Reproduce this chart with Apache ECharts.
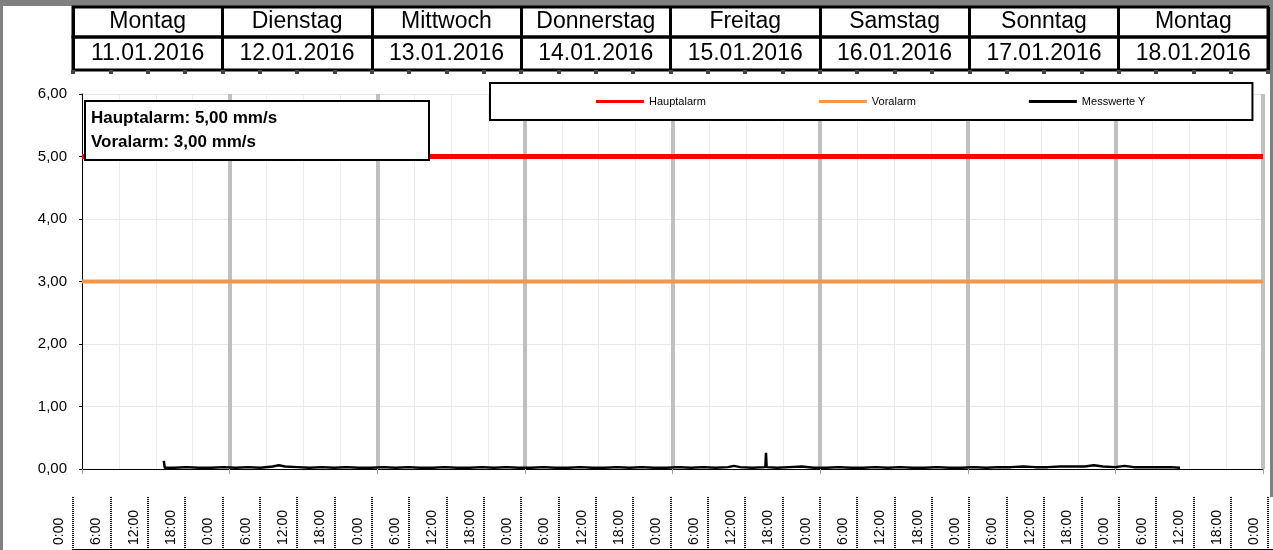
<!DOCTYPE html>
<html><head><meta charset="utf-8">
<script src="https://cdn.jsdelivr.net/npm/echarts@6/dist/echarts.min.js"></script>
<style>
html,body{margin:0;padding:0;background:#fff;}
#chart{position:absolute;left:0;top:0;width:1273px;height:550px;}
.gb{position:absolute;background:#808080;}
</style></head><body>
<div class="gb" style="left:0;top:0;width:1273px;height:6px"></div>
<div class="gb" style="left:0;top:0;width:3px;height:550px"></div>
<div class="gb" style="left:1270px;top:0;width:3px;height:497px"></div>
<div id="chart"></div>
<script>
// ---- data ----
const dayNames = ['Montag','Dienstag','Mittwoch','Donnerstag','Freitag','Samstag','Sonntag','Montag'];
const dayDates = ['11.01.2016','12.01.2016','13.01.2016','14.01.2016','15.01.2016','16.01.2016','17.01.2016','18.01.2016'];
const timeLabels = ['0:00','6:00','12:00','18:00','0:00','6:00','12:00','18:00','0:00','6:00','12:00','18:00',
  '0:00','6:00','12:00','18:00','0:00','6:00','12:00','18:00','0:00','6:00','12:00','18:00',
  '0:00','6:00','12:00','18:00','0:00','6:00','12:00','18:00','0:00'];
const yTicks = [0,1,2,3,4,5,6];
const seriesNames = ['Hauptalarm','Voralarm','Messwerte Y'];
// hours since 11.01.2016 00:00
const alarmHours = [0, 192];
const hauptalarm = [5.00, 5.00];
const voralarm = [3.00, 3.00];
const mwHours = [13.3, 13.45, 15, 17, 19, 21, 23, 25, 27, 29, 31, 32, 33, 35, 37, 39, 41, 43, 45, 47,
  49, 51, 53, 55, 57, 59, 61, 63, 65, 67, 69, 71, 73, 75, 77, 79, 81, 83, 85, 87,
  89, 91, 93, 95, 97, 99, 101, 103, 105, 106, 107, 109, 111.1, 111.2, 111.3, 113, 115, 117, 119, 121,
  123, 125, 127, 129, 131, 133, 135, 137, 139, 141, 143, 145, 147, 149, 151, 153, 155, 157, 159, 161,
  163, 164.5, 166, 168, 169.5, 171, 173, 175, 177, 178.5];
const mwValues = [0.13, 0.02, 0.02, 0.03, 0.02, 0.02, 0.03, 0.02, 0.03, 0.02, 0.04, 0.06, 0.04, 0.03, 0.02, 0.03, 0.02, 0.03, 0.02, 0.02,
  0.03, 0.02, 0.03, 0.02, 0.02, 0.03, 0.02, 0.02, 0.03, 0.02, 0.03, 0.02, 0.02, 0.03, 0.02, 0.02, 0.03, 0.02, 0.02, 0.03,
  0.02, 0.03, 0.02, 0.02, 0.03, 0.02, 0.03, 0.02, 0.03, 0.05, 0.03, 0.02, 0.03, 0.26, 0.03, 0.02, 0.03, 0.04, 0.02, 0.02,
  0.03, 0.02, 0.02, 0.03, 0.02, 0.03, 0.02, 0.02, 0.03, 0.02, 0.02, 0.03, 0.02, 0.03, 0.03, 0.04, 0.03, 0.03, 0.04, 0.04,
  0.04, 0.06, 0.04, 0.03, 0.05, 0.03, 0.03, 0.03, 0.03, 0.02];

// ---- chart ----
const FF = 'Arial, "Liberation Sans", sans-serif';
const zip = (xs, ys) => xs.map((x, i) => [x, ys[i]]);
const chart = echarts.init(document.getElementById('chart'), null, {renderer: 'canvas'});
const hidY = i => ({gridIndex: i, type: 'value', show: false});
chart.setOption({
  animation: false,
  title: {
    text: 'Hauptalarm: 5,00 mm/s\nVoralarm: 3,00 mm/s',
    left: 85, top: 101, padding: [5, 152, 6, 6],
    borderColor: '#000', borderWidth: 2, backgroundColor: '#fff',
    textStyle: {fontFamily: FF, fontSize: 17, fontWeight: 'bold', color: '#000', lineHeight: 24}
  },
  legend: {
    data: seriesNames, left: 490, top: 83, padding: [12, 107, 12, 106],
    icon: 'rect', itemGap: 113, itemWidth: 48, itemHeight: 3,
    borderColor: '#000', borderWidth: 2, backgroundColor: '#fff',
    textStyle: {fontFamily: FF, fontSize: 11, color: '#000', lineHeight: 13}
  },
  grid: [
    {left: 82, top: 94, width: 1181, height: 375},
    {left: 73, top: 7, width: 1195, height: 30, show: true, borderColor: '#000', borderWidth: 3},
    {left: 73, top: 37, width: 1195, height: 33, show: true, borderColor: '#000', borderWidth: 3},
    {left: 73, top: 497, width: 1200, height: 53},
    {left: 59, top: 480, width: 1195, height: 65}
  ],
  xAxis: [
    {gridIndex: 0, type: 'value', min: 0, max: 192, interval: 24,
      axisLine: {show: true, lineStyle: {color: '#000', width: 1}},
      axisTick: {show: true, length: 5, lineStyle: {color: '#a0a0a0'}},
      axisLabel: {show: false},
      splitLine: {show: true, showMinLine: false, lineStyle: {color: '#c0c0c0', width: 4}},
      minorTick: {show: false, splitNumber: 4},
      minorSplitLine: {show: true, lineStyle: {color: '#ebebeb', width: 1}}
    },
    {gridIndex: 1, type: 'category', data: dayNames, boundaryGap: true, position: 'bottom',
      axisLine: {show: false}, axisTick: {show: false},
      axisLabel: {interval: 0, inside: true, margin: 15, verticalAlign: 'middle', fontFamily: FF, fontSize: 23, color: '#000'},
      splitLine: {show: true, interval: 0, lineStyle: {color: '#000', width: 3}}
    },
    {gridIndex: 2, type: 'category', data: dayDates, boundaryGap: true, position: 'top',
      axisLine: {show: false}, axisTick: {show: false},
      axisLabel: {interval: 0, inside: true, margin: 17, verticalAlign: 'middle', fontFamily: FF, fontSize: 23, color: '#000'},
      splitLine: {show: true, interval: 0, lineStyle: {color: '#000', width: 3}}
    },
    {gridIndex: 2, type: 'value', min: 0, max: 32, interval: 1, position: 'bottom',
      axisLine: {show: false}, axisLabel: {show: false}, splitLine: {show: false},
      axisTick: {show: true, length: 4, lineStyle: {color: '#444', width: 4}}
    },
    {gridIndex: 3, type: 'value', min: 0, max: 32.134, interval: 1, position: 'top',
      axisLine: {show: true, lineStyle: {color: '#000', width: 3}},
      axisTick: {show: false}, axisLabel: {show: false},
      splitLine: {show: true, showMaxLine: false, lineStyle: {color: '#000', width: 2, type: [1, 1]}}
    },
    {gridIndex: 4, type: 'category', data: timeLabels, boundaryGap: false, position: 'bottom',
      axisLine: {show: false}, axisTick: {show: false}, splitLine: {show: false},
      axisLabel: {interval: 0, rotate: 90, align: 'left', verticalAlign: 'middle', margin: 0,
        fontFamily: FF, fontSize: 14, color: '#000'}
    }
  ],
  yAxis: [
    {gridIndex: 0, type: 'value', min: yTicks[0], max: yTicks[yTicks.length - 1], interval: 1,
      axisLine: {show: true, lineStyle: {color: '#000', width: 1}},
      axisTick: {show: true, length: 3, lineStyle: {color: '#000'}},
      axisLabel: {margin: 15, fontFamily: FF, fontSize: 15, color: '#000',
        formatter: v => v.toFixed(2).replace('.', ',')},
      splitLine: {show: true, lineStyle: {color: '#e8e8e8', width: 1}}
    },
    hidY(1), hidY(2), hidY(3), hidY(4)
  ],
  series: [
    {name: seriesNames[0], type: 'line', xAxisIndex: 0, yAxisIndex: 0, data: zip(alarmHours, hauptalarm),
      symbol: 'none', lineStyle: {color: '#ff0000', width: 5}, itemStyle: {color: '#ff0000'}, z: 3},
    {name: seriesNames[1], type: 'line', xAxisIndex: 0, yAxisIndex: 0, data: zip(alarmHours, voralarm),
      symbol: 'none', lineStyle: {color: '#f79646', width: 4}, itemStyle: {color: '#f79646'}, z: 3},
    {name: seriesNames[2], type: 'line', xAxisIndex: 0, yAxisIndex: 0, data: zip(mwHours, mwValues),
      symbol: 'none', lineStyle: {color: '#000', width: 2.5}, itemStyle: {color: '#000'}, z: 4}
  ]
});
</script>
</body></html>
